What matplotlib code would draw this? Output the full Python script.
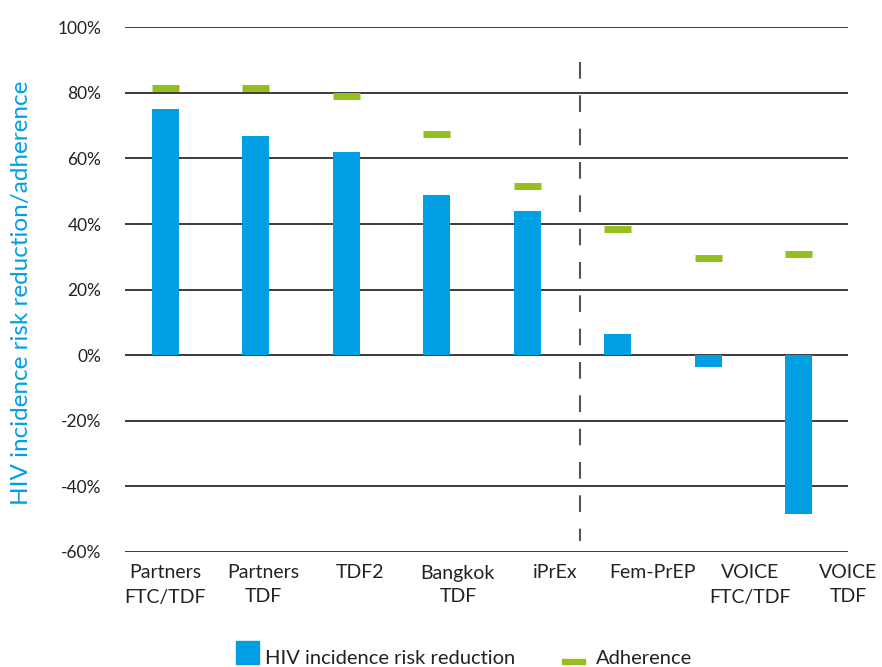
import matplotlib
matplotlib.use("Agg")
import matplotlib.pyplot as plt
from matplotlib.patches import Rectangle
import numpy as np

# PrEP trials: HIV incidence risk reduction vs adherence (%)
trials = ["Partners\nFTC/TDF", "Partners\nTDF", "TDF2", "Bangkok\nTDF", "iPrEx",
          "Fem-PrEP", "VOICE\nFTC/TDF", "VOICE\nTDF"]
risk_reduction = [75, 67, 62, 49, 44, 6.5, -3.5, -48.5]
adherence = [81.5, 81.5, 79, 67.5, 51.5, 38.5, 29.5, 30.8]
yticks = [-60, -40, -20, 0, 20, 40, 60, 80, 100]

BLUE = "#009fe3"
GREEN = "#93c01f"
INK = "#222222"

plt.rcParams["font.family"] = ["Lato", "DejaVu Sans"]

fig = plt.figure(figsize=(8.82, 6.67), dpi=100)
ax = fig.add_axes([125/882, 1 - 552/667, (848-125)/882, (552-27.3)/667])

x = np.arange(len(trials))
bw = 0.3
ax.bar(x, risk_reduction, width=bw, color=BLUE, zorder=3)
ax.hlines(adherence, x - bw/2, x + bw/2, colors=GREEN, linewidth=5, zorder=3,
          capstyle="butt")

# divider between the first five trials and the women-only trials
ax.plot([4.58, 4.58], [89.3, -56.6], color="#555555", lw=1.5,
        linestyle=(0, (8, 8)), zorder=2)

for v in yticks:
    ax.axhline(v, color="#1a1a1a", lw=1.2, zorder=1)

ax.set_xlim(-0.4465, 7.525)
ax.set_ylim(-60, 100)
ax.set_yticks(yticks)
ax.set_yticklabels([f"{v}%" for v in yticks], fontsize=12.5, color=INK)
ax.set_xticks(x * 1.078)
ax.set_xticklabels(trials, fontsize=14, color=INK, linespacing=1.5)
ax.tick_params(length=0)
ax.tick_params(axis="y", pad=17)
ax.tick_params(axis="x", pad=9)
for s in ax.spines.values():
    s.set_visible(False)

fig.text(22/882, 1 - 293/667, "HIV incidence risk reduction/adherence",
         rotation=90, ha="center", va="center", fontsize=17.5, color=BLUE)

# legend drawn by hand to match the source layout
fig.add_artist(Rectangle((236/882, 1 - 664/667), 23/882, 23/667,
                         transform=fig.transFigure, color=BLUE))
fig.text(265/882, 1 - 664/667, "HIV incidence risk reduction",
         ha="left", va="baseline", fontsize=14.5, color=INK)
fig.add_artist(Rectangle((562/882, 1 - 664/667), 23/882, 5/667,
                         transform=fig.transFigure, color=GREEN))
fig.text(596/882, 1 - 664/667, "Adherence",
         ha="left", va="baseline", fontsize=14.5, color=INK)

fig.savefig("out.png", dpi=100, facecolor="white")
